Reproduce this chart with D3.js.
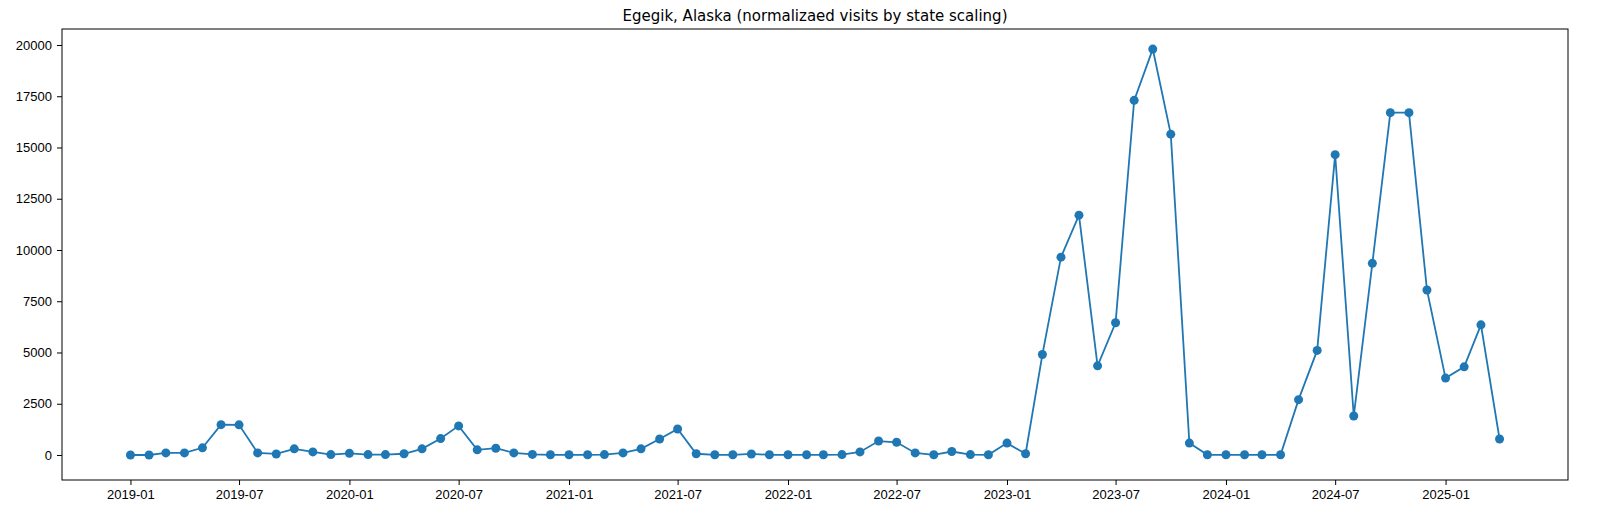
<!DOCTYPE html>
<html><head><meta charset="utf-8">
<script src="https://cdn.jsdelivr.net/npm/d3@7"></script>
<style>body{margin:0;background:#fff;font-family:"DejaVu Sans",sans-serif;}</style>
</head><body>
<svg id="chart" width="1624" height="526"></svg>
<script>
const title = 'Egegik, Alaska (normalizaed visits by state scaling)';
const startMonth = '2019-01';
const visits = [
  0, 0, 100, 100, 350, 1480, 1470, 100, 50, 300, 150, 20,
  80, 20, 20, 60, 300, 800, 1420, 250, 330, 100, 30, 10,
  10, 10, 20, 100, 300, 780, 1270, 60, 10, 10, 50, 10,
  10, 10, 10, 20, 150, 680, 620, 100, 10, 170, 20, 10,
  580, 60, 4900, 9650, 11700, 4350, 6450, 17300, 19800, 15650, 580, 10,
  10, 10, 10, 10, 2700, 5100, 14650, 1900, 9350, 16700, 16700, 8050,
  3750, 4300, 6350, 780
];
const yTicks = [0, 2500, 5000, 7500, 10000, 12500, 15000, 17500, 20000];

const start = d3.timeParse('%Y-%m')(startMonth);
const data = visits.map((v, i) => ({ date: d3.timeMonth.offset(start, i), value: v }));

const margin = { top: 29, right: 56, bottom: 46, left: 62 };
const width = 1624, height = 526;
const svg = d3.select('#chart');

const first = data[0].date, last = data[data.length - 1].date;
const pad = (last - first) * 0.05;
const x = d3.scaleTime()
  .domain([new Date(+first - pad), new Date(+last + pad)])
  .range([margin.left, width - margin.right]);
const y = d3.scaleLinear()
  .domain([-1220, 20780])
  .range([height - margin.bottom, margin.top]);

const xTicks = d3.range(0, 13).map(i => d3.timeMonth.offset(start, i * 6));

const xAxis = svg.append('g')
  .attr('transform', `translate(0,${height - margin.bottom})`)
  .call(d3.axisBottom(x).tickValues(xTicks).tickFormat(d3.timeFormat('%Y-%m')).tickSizeOuter(0).tickSize(5).tickPadding(5));
const yAxis = svg.append('g')
  .attr('transform', `translate(${margin.left},0)`)
  .call(d3.axisLeft(y).tickValues(yTicks).tickFormat(d3.format('d')).tickSizeOuter(0).tickSize(5).tickPadding(5));
[xAxis, yAxis].forEach(a => {
  a.selectAll('text').style('font-size', '13px').attr('fill', '#000');
  a.select('.domain').remove();
});

svg.append('rect')
  .attr('x', margin.left).attr('y', margin.top)
  .attr('width', width - margin.left - margin.right)
  .attr('height', height - margin.top - margin.bottom)
  .attr('fill', 'none').attr('stroke', '#000').attr('stroke-width', 1);

svg.append('path')
  .datum(data)
  .attr('fill', 'none')
  .attr('stroke', '#1f77b4')
  .attr('stroke-width', 1.8)
  .attr('d', d3.line().x(d => x(d.date)).y(d => y(d.value)));

svg.append('g').selectAll('circle')
  .data(data).enter().append('circle')
  .attr('cx', d => x(d.date)).attr('cy', d => y(d.value))
  .attr('r', 4.5).attr('fill', '#1f77b4');

svg.append('text')
  .attr('x', (margin.left + width - margin.right) / 2).attr('y', 21)
  .attr('text-anchor', 'middle').style('font-size', '15px')
  .text(title);
</script>
</body></html>
